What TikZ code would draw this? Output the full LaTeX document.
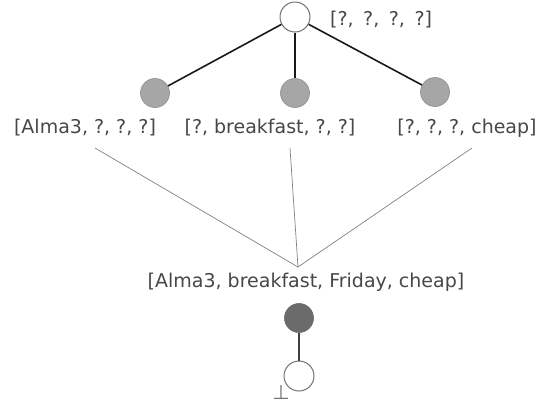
\documentclass[tikz,border=0pt]{standalone}
\usepackage{fontspec}
\setmainfont{DejaVu Sans}
\begin{document}
\begin{tikzpicture}[x=1pt,y=-1pt,
  hollow/.style={circle,draw=black!55,fill=white,line width=1pt,minimum size=30pt,inner sep=0pt},
  shaded/.style={circle,draw=black!45,fill=black!35,line width=0.6pt,minimum size=29pt,inner sep=0pt},
  darkdot/.style={circle,draw=black!60,fill=black!58,line width=0.6pt,minimum size=29pt,inner sep=0pt},
  tuple/.style={text=black!72,font=\fontsize{19}{21}\selectfont,inner sep=1pt},
  treeedge/.style={line width=1.6pt,black!90},
  joinedge/.style={line width=0.7pt,black!50}]
\useasboundingbox (0,0) rectangle (557,405);

% top node and its three specialisations
\node[tuple,anchor=west] (ltop) at (329,20) {[?,\enspace?,\enspace?,\enspace?]};
\node[hollow] (top) at (295,17) {};
\node[shaded] (a) at (155,93) {};
\node[shaded] (b) at (295,93) {};
\node[shaded] (c) at (435,92) {};
\draw[treeedge] (top) -- (a);
\draw[treeedge] (top) -- (b);
\draw[treeedge] (top) -- (c);

\node[tuple] (la) at (85,128) {[Alma3, ?, ?, ?]};
\node[tuple] (lb) at (270,128) {[?, breakfast, ?, ?]};
\node[tuple] (lc) at (467,128) {[?, ?, ?, cheap]};

% the combined tuple
\node[tuple] (lm) at (306,282) {[Alma3, breakfast, Friday, cheap]};
\coordinate (meet) at (298,267);
\coordinate (sa) at (95,148);
\coordinate (sb) at (290,148);
\coordinate (sc) at (472,148);
\draw[joinedge] (sa) -- (meet);
\draw[joinedge] (sb) -- (meet);
\draw[joinedge] (sc) -- (meet);

% bottom chain
\node[darkdot] (d) at (299,318) {};
\node[hollow] (bot) at (299,376) {};
\draw[treeedge,line width=1.4pt,black!75] (d) -- (bot);
\node[text=black!55,font=\fontsize{20}{20}\selectfont,inner sep=0pt] (bottom) at (281,392) {⊥};
\end{tikzpicture}
\end{document}
